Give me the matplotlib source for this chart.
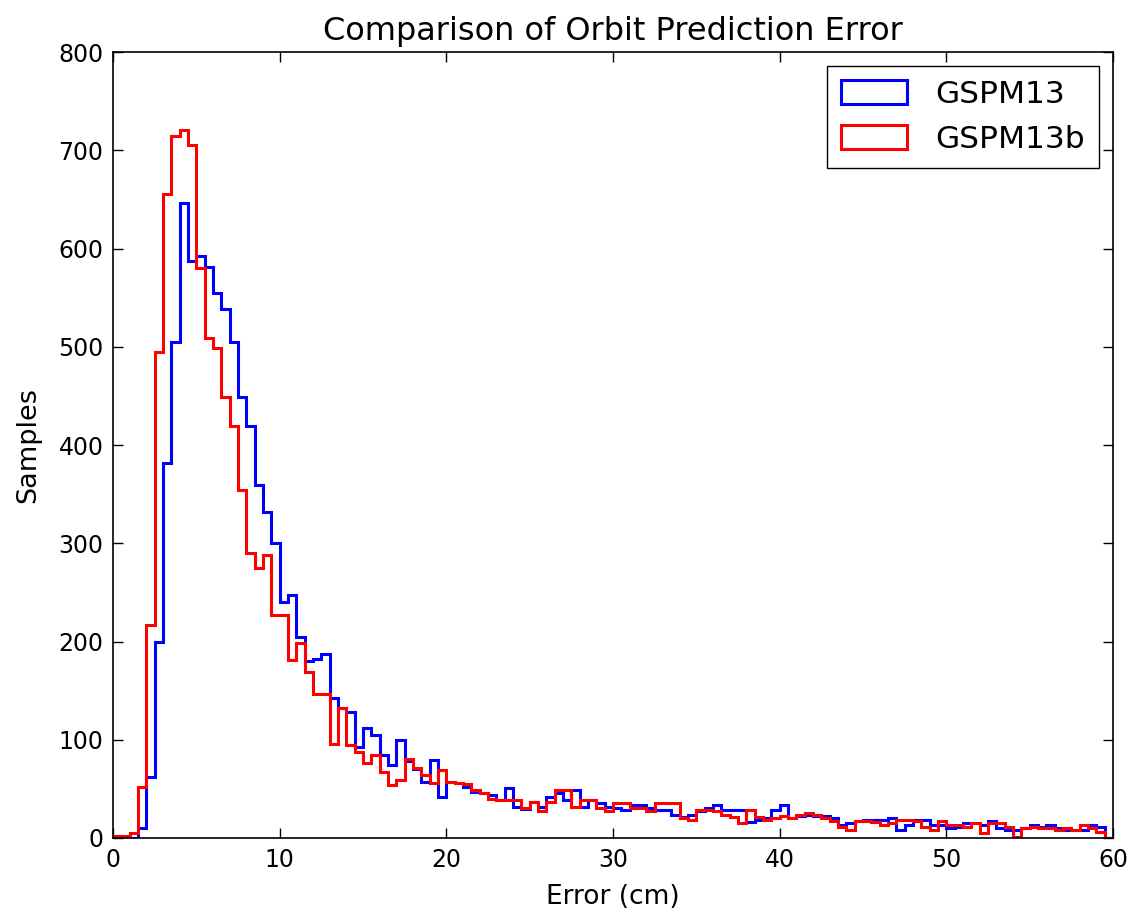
import numpy as np
import matplotlib
matplotlib.use("Agg")
import matplotlib.pyplot as plt

# Histogram bin edges (cm) and counts
bin_edges = np.arange(0, 60.0001, 0.5)

gspm13 = [0, 0, 0, 10, 62, 200, 382, 505, 646, 587,
          592, 581, 555, 539, 505, 449, 419, 359, 332, 300,
          240, 247, 205, 180, 182, 187, 142, 132, 128, 93,
          112, 105, 84, 74, 100, 78, 70, 57, 79, 42,
          57, 56, 52, 47, 46, 44, 39, 51, 32, 29,
          37, 32, 42, 46, 39, 49, 32, 39, 36, 32,
          30, 28, 34, 34, 30, 28, 28, 23, 21, 23,
          27, 30, 34, 28, 28, 28, 16, 18, 20, 28,
          34, 20, 22, 23, 22, 22, 20, 13, 15, 17,
          18, 18, 18, 20, 8, 13, 18, 18, 13, 13,
          10, 11, 15, 15, 13, 17, 10, 8, 8, 10,
          13, 11, 13, 10, 8, 8, 8, 13, 11, 0]

gspm13b = [2, 2, 5, 52, 217, 495, 656, 715, 721, 705,
           580, 509, 499, 449, 419, 354, 290, 275, 288, 227,
           227, 181, 198, 169, 147, 147, 96, 132, 95, 88,
           76, 84, 67, 54, 59, 80, 71, 64, 56, 69,
           57, 56, 55, 49, 46, 40, 39, 39, 39, 30,
           37, 27, 37, 49, 49, 32, 39, 39, 30, 27,
           36, 36, 30, 30, 27, 36, 36, 36, 20, 18,
           28, 28, 27, 23, 21, 15, 28, 21, 18, 20,
           22, 20, 23, 25, 23, 20, 17, 11, 8, 17,
           17, 16, 13, 15, 18, 18, 17, 11, 8, 17,
           13, 13, 11, 15, 5, 15, 15, 11, 1, 10,
           11, 10, 10, 8, 10, 8, 13, 10, 6, 0]

series_labels = ["GSPM13", "GSPM13b"]
x_ticks = [0, 10, 20, 30, 40, 50, 60]
y_ticks = [0, 100, 200, 300, 400, 500, 600, 700, 800]

plt.rcParams['font.family'] = ['DejaVu Sans']

fig = plt.figure(figsize=(11.31, 9.15), dpi=100)
ax = fig.add_axes([0.1, 0.0842, 0.884, 0.8588])

centers = (bin_edges[:-1] + bin_edges[1:]) / 2
ax.hist(centers, bins=bin_edges, weights=gspm13, histtype='step',
        color=(0, 0, 1), linewidth=2.2, label=series_labels[0])
ax.hist(centers, bins=bin_edges, weights=gspm13b, histtype='step',
        color=(1, 0, 0), linewidth=2.2, label=series_labels[1])

ax.set_xlim(0, 60)
ax.set_ylim(0, 800)
ax.set_xticks(x_ticks)
ax.set_yticks(y_ticks)
ax.tick_params(direction='in', length=7, width=1, top=True, right=True,
               labelsize=17, pad=7)
for s in ax.spines.values():
    s.set_linewidth(1.2)

ax.set_title("Comparison of Orbit Prediction Error", fontsize=23, pad=9)
ax.set_xlabel("Error (cm)", fontsize=19, labelpad=9)
ax.set_ylabel("Samples", fontsize=19.5, labelpad=12)

leg = ax.legend(loc='upper right', fontsize=22.5, fancybox=False,
                edgecolor='black', framealpha=1, borderaxespad=0.45,
                handlelength=2.1, handleheight=0.8, labelspacing=0.5,
                borderpad=0.45, handletextpad=0.9)
leg.get_frame().set_linewidth(1.0)

fig.savefig("out.png", dpi=100, facecolor='white')
